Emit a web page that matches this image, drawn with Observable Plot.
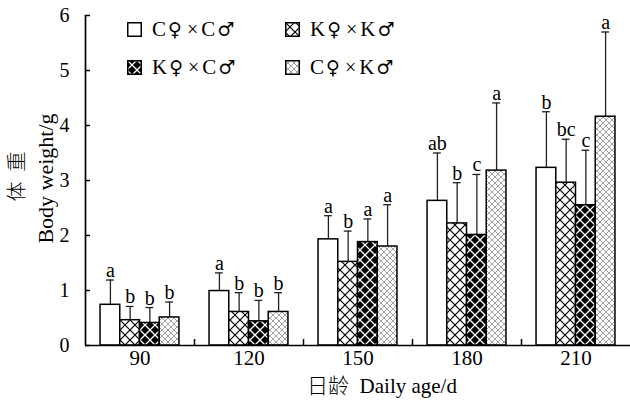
<!DOCTYPE html>
<html><head><meta charset="utf-8">
<script src="https://cdn.jsdelivr.net/npm/d3@7"></script>
<script src="https://cdn.jsdelivr.net/npm/@observablehq/plot@0.6"></script>
<style>
body{margin:0;background:#fff;}
#wrap{position:relative;width:630px;height:400px;font-family:"Liberation Serif","Times New Roman",serif;}
.item{position:absolute;display:flex;align-items:center;font-size:21px;color:#000;white-space:nowrap;line-height:1;}
.item svg{margin-right:10px;}
.sym{font-family:"DejaVu Serif","DejaVu Sans",serif;font-size:19px;margin:0 2px;}
.tim{font-family:"Liberation Serif",serif;font-size:20px;margin:0 3px;}
</style></head><body><div id="wrap"></div>
<script>
// ---- data ----
const ages = [90, 120, 150, 180, 210];
const series = ["C♀×C♂", "K♀×K♂", "K♀×C♂", "C♀×K♂"];
const meanCC = [0.74, 0.99, 1.93, 2.63, 3.23];
const meanKK = [0.46, 0.61, 1.52, 2.22, 2.96];
const meanKC = [0.41, 0.44, 1.88, 2.01, 2.55];
const meanCK = [0.51, 0.61, 1.80, 3.18, 4.16];
const sdCC = [0.45, 0.33, 0.43, 0.87, 1.02];
const sdKK = [0.25, 0.35, 0.56, 0.74, 0.79];
const sdKC = [0.28, 0.38, 0.42, 1.10, 1.00];
const sdCK = [0.28, 0.35, 0.76, 1.23, 1.54];
const letCC = ["a", "a", "a", "ab", "b"];
const letKK = ["b", "b", "b", "b", "bc"];
const letKC = ["b", "b", "a", "c", "c"];
const letCK = ["b", "b", "a", "a", "a"];
const yTicks = [0, 1, 2, 3, 4, 5, 6];
const xTitle = "日龄  Daily age/d";
const yTitleZh = "体  重";
const yTitleEn = "Body weight/g";

const means = [meanCC, meanKK, meanKC, meanCK];
const sds = [sdCC, sdKK, sdKC, sdCK];
const lets = [letCC, letKK, letKC, letCK];
const fills = ["url(#pcc)", "url(#pkk)", "url(#pkc)", "url(#pck)"];

const rows = [];
ages.forEach((age, gi) => series.forEach((s, si) => {
  rows.push({gi, si, age, series: s, mean: means[si][gi], sd: sds[si][gi], letter: lets[si][gi]});
}));

const W = 0.181;   // bar width in group units
const CAP = 0.036; // half cap width in group units
const cx = d => d.gi + 0.5 + (d.si - 1.5) * W;
const errTop = d => d.mean + d.sd;

const serif = "Liberation Serif, Times New Roman, Noto Sans CJK SC, serif";

const chart = Plot.plot({
  width: 630, height: 400,
  marginLeft: 85, marginRight: 0, marginTop: 15, marginBottom: 55,
  style: {fontFamily: serif, fontSize: "20px", color: "#000", background: "#fff", overflow: "visible"},
  x: {domain: [0, 5], axis: null},
  y: {domain: [0, 6], axis: null},
  color: {domain: series, range: fills},
  marks: [
    Plot.ruleX(rows, {x: cx, y1: "mean", y2: errTop, stroke: "#222", strokeWidth: 1.3}),
    Plot.ruleY(rows, {y: errTop, x1: d => cx(d) - CAP, x2: d => cx(d) + CAP, stroke: "#222", strokeWidth: 1.3}),
    Plot.rect(rows, {x1: d => cx(d) - W / 2, x2: d => cx(d) + W / 2, y1: 0, y2: "mean", fill: "series", stroke: "#000", strokeWidth: 1.5}),
    Plot.text(rows, {x: cx, y: errTop, text: "letter", lineAnchor: "bottom", dy: -3, fontSize: 20, fill: "#000"}),
    Plot.axisY({ticks: yTicks, tickSize: -5, tickPadding: 21, tickFormat: d => String(d), label: null, strokeWidth: 1.5, fontSize: 20}),
    Plot.axisX({ticks: [1, 2, 3, 4], tickSize: -6, tickFormat: () => "", label: null, strokeWidth: 1.5}),
    Plot.axisX({ticks: ages.map((_, i) => i + 0.5), tickSize: 0, tickPadding: 5, tickFormat: v => String(ages[Math.floor(v)]), label: null, fontSize: 21}),
    Plot.ruleX([0], {strokeWidth: 1.7}),
    Plot.ruleY([0], {strokeWidth: 1.7}),
    Plot.text([xTitle], {frameAnchor: "bottom", textAnchor: "middle", lineAnchor: "middle", dx: 24, dy: 41, fontSize: 21, fontWeight: 300, fill: "#000"}),
    Plot.text([yTitleEn], {frameAnchor: "left", textAnchor: "middle", lineAnchor: "middle", rotate: -90, dx: -40, dy: -2, fontSize: 22, fill: "#000"}),
    Plot.text([yTitleZh], {frameAnchor: "left", textAnchor: "middle", lineAnchor: "middle", rotate: -90, dx: -68, dy: -4, fontSize: 20, fontWeight: 300, fill: "#000"})
  ]
});

// patterns
const defs = d3.select(chart).insert("defs", ":first-child");
function pat(id, size, bg, line, lw) {
  const p = defs.append("pattern").attr("id", id).attr("patternUnits", "userSpaceOnUse")
    .attr("width", size).attr("height", size);
  p.append("rect").attr("width", size).attr("height", size).attr("fill", bg);
  if (line) p.append("path").attr("d", `M0,0L${size},${size}M${size},0L0,${size}`)
    .attr("stroke", line).attr("stroke-width", lw).attr("fill", "none");
}
pat("pcc", 10, "#fff", null, 0);
pat("pkk", 10, "#fff", "#000", 1.2);
pat("pkc", 10, "#000", "#fff", 1.3);
pat("pck", 6, "#fff", "#999", 0.9);

const wrap = document.getElementById("wrap");
wrap.appendChild(chart);

// legend
const legPos = [[127, 30], [285, 30], [127, 68], [285, 68]];
series.forEach((s, i) => {
  const div = document.createElement("div");
  div.className = "item";
  div.style.left = legPos[i][0] + "px";
  div.style.top = (legPos[i][1] - 11) + "px";
  const html = Array.from(s).map(ch => /[♀♂]/.test(ch) ? `<span class="sym">${ch}</span>` : ch === "×" ? `<span class="tim">${ch}</span>` : ch).join("");
  div.innerHTML = `<svg width="15" height="15"><rect x="0.75" y="0.75" width="13.5" height="13.5" fill="${fills[i]}" stroke="#000" stroke-width="1.5"/></svg><span>${html}</span>`;
  wrap.appendChild(div);
});
</script></body></html>
